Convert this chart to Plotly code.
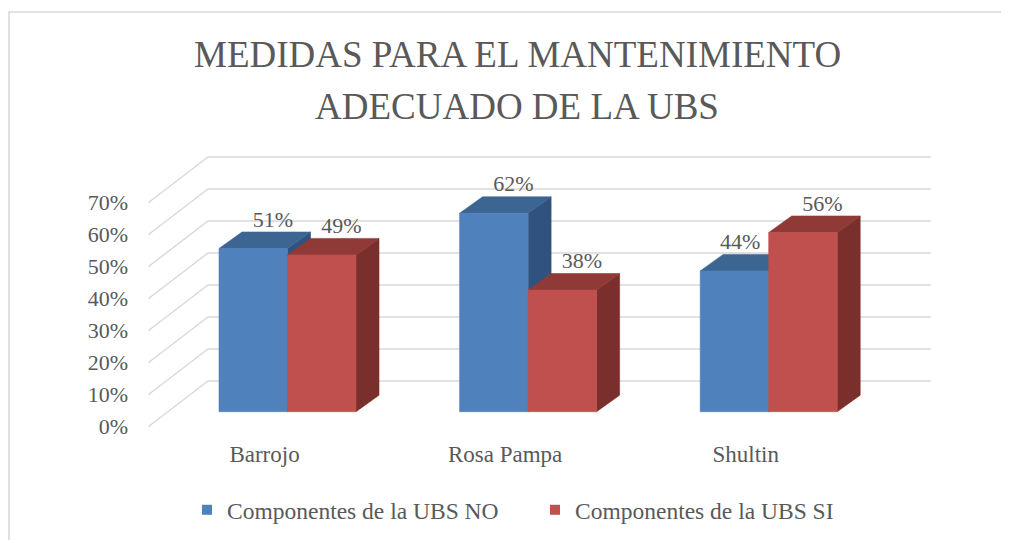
import plotly.graph_objects as go

# ---------------- data ----------------
categories = ["Barrojo", "Rosa Pampa", "Shultin"]
series_names = ["Componentes de la UBS NO", "Componentes de la UBS SI"]
values_no = [51, 62, 44]
values_si = [49, 38, 56]
y_ticks = [0, 10, 20, 30, 40, 50, 60, 70]
y_ticktext = ["0%", "10%", "20%", "30%", "40%", "50%", "60%", "70%"]
title_lines = ["MEDIDAS PARA EL MANTENIMIENTO", "ADECUADO DE LA UBS"]

# ---------------- styles ----------------
FONT = "Liberation Serif, Times New Roman, serif"
TXT = "#595959"
GRID = "#D9D9D9"
colors = {
    "no": {"front": "#4F81BD", "top": "#3D6592", "side": "#30527F"},
    "si": {"front": "#C0504D", "top": "#8F3A37", "side": "#7B2F2D"},
}

# page geometry (reference pixel coordinates); the page body adds an 8px offset
OFF = 8
PAGE_W, PAGE_H = 1009, 540
EXTRA_H = 40                             # spare room below so the legend never pushes margins
L, R, T, B = 135, 945, 140, 440          # plot area in px
X0, SX = 287.5, 240.6                    # px of category 0 centre, px per category
Y0, SY = 411.7, 3.2                      # px of 0 %, px per 1 %


def xd(px):
    return (px - X0) / SX


def yd(py):
    return (Y0 - py) / SY


BAR_W = 68.5 / SX          # bar front width (category units)
DX = 23.0 / SX             # bar depth offset in x
DY = 16.5 / SY             # bar depth offset in y (%)
LABEL_SHIFT = (426.7 - Y0) / SY   # tick labels sit on the front floor
WALL_DX = xd(208) - xd(148.3)
WALL_DY = (Y0 - 381) / SY + LABEL_SHIFT
GRID_X_FRONT = xd(148.3)
GRID_X_END = xd(930.7)
LABEL_HALF = 20.5 / SX     # half width of a data label
LABEL_GAP = 8.0 / SX

xr = [xd(L), xd(R)]
yr = [yd(B), yd(T)]

fig = go.Figure()

# gridlines: diagonal on the side + horizontal on the back wall
gx, gy = [], []
for v in y_ticks:
    yf = v - LABEL_SHIFT
    gx += [GRID_X_FRONT, GRID_X_FRONT + WALL_DX, GRID_X_END, None]
    gy += [yf, yf + WALL_DY, yf + WALL_DY, None]
fig.add_trace(go.Scatter(x=gx, y=gy, mode="lines", line=dict(color=GRID, width=1.4),
                         hoverinfo="skip", showlegend=False))


def poly(xs, ys, color):
    fig.add_trace(go.Scatter(x=xs + [xs[0]], y=ys + [ys[0]], mode="lines", fill="toself",
                             fillcolor=color, line=dict(color=color, width=0.6),
                             hoverinfo="skip", showlegend=False))


series = [("no", values_no), ("si", values_si)]
label_x, label_y, label_t = [], [], []
for i, cat in enumerate(categories):
    for s, (key, vals) in enumerate(series):
        v = vals[i]
        c = colors[key]
        x0 = i + (s - 1) * BAR_W
        x1 = x0 + BAR_W
        poly([x1, x1 + DX, x1 + DX, x1], [0, DY, v + DY, v], c["side"])
        poly([x0, x1, x1 + DX, x0 + DX], [v, v, v + DY, v + DY], c["top"])
        poly([x0, x1, x1, x0], [0, 0, v, v], c["front"])
        lx = (x0 + x1) / 2 + 0.85 * DX
        # keep the label clear of a taller neighbouring bar on the right
        if s == 0 and values_si[i] > v:
            lx = min(lx, x1 - LABEL_GAP - LABEL_HALF)
        label_x.append(lx)
        label_y.append(v + DY)
        label_t.append(f"{v}%")

fig.add_trace(go.Scatter(x=label_x, y=label_y, text=label_t, mode="text",
                         textposition="top center",
                         textfont=dict(family=FONT, size=22, color=TXT),
                         hoverinfo="skip", showlegend=False, cliponaxis=False))

for name, key in zip(series_names, ["no", "si"]):
    fig.add_trace(go.Scatter(x=[None], y=[None], mode="markers", name=name,
                             marker=dict(symbol="square", size=10, color=colors[key]["front"],
                                         line=dict(width=0))))

fig.add_trace(go.Scatter(x=[None], y=[None], yaxis="y2", showlegend=False, hoverinfo="skip"))

pw, ph = R - L, B - T


def pxp(px):
    return (px - L) / pw


def pyp(py):
    return (B - py) / ph


fig_w = PAGE_W - 2 * OFF
fig_h = PAGE_H - OFF + EXTRA_H

fig.update_layout(
    width=fig_w, height=fig_h,
    margin=dict(l=L - OFF, r=OFF + fig_w - R, t=T - OFF, b=OFF + fig_h - B, pad=0),
    paper_bgcolor="white", plot_bgcolor="rgba(0,0,0,0)",
    font=dict(family=FONT, size=22, color=TXT),
    xaxis=dict(range=xr, tickvals=[i - DX for i in range(len(categories))],
               ticktext=categories, showgrid=False, zeroline=False, showline=False,
               ticks="", tickfont=dict(family=FONT, size=23, color=TXT),
               ticklabelstandoff=-2, fixedrange=True),
    yaxis=dict(range=yr, showgrid=False, zeroline=False, showline=False,
               showticklabels=False, ticks="", fixedrange=True),
    yaxis2=dict(range=[yr[0] + LABEL_SHIFT, yr[1] + LABEL_SHIFT], overlaying="y",
                side="left", anchor="x", tickvals=y_ticks, ticktext=y_ticktext,
                showgrid=False, zeroline=False, showline=False, ticks="",
                tickfont=dict(family=FONT, size=22, color=TXT),
                ticklabelstandoff=6, fixedrange=True),
    showlegend=True,
    legend=dict(orientation="h", x=pxp(187), xanchor="left", y=pyp(510), yanchor="middle",
                font=dict(family=FONT, size=23.5, color=TXT), bgcolor="rgba(0,0,0,0)",
                entrywidth=303, entrywidthmode="pixels", borderwidth=0),
    shapes=[dict(type="rect", xref="paper", yref="paper", x0=pxp(9), x1=pxp(1030),
                 y0=pyp(620), y1=pyp(12), line=dict(color=GRID, width=1.6),
                 fillcolor="rgba(0,0,0,0)", layer="below")],
    annotations=[
        dict(text=title_lines[0], xref="paper", yref="paper",
             x=pxp(517), y=pyp(55), xanchor="center", yanchor="middle", showarrow=False,
             font=dict(family=FONT, size=37, color=TXT)),
        dict(text=title_lines[1], xref="paper", yref="paper",
             x=pxp(517), y=pyp(107), xanchor="center", yanchor="middle", showarrow=False,
             font=dict(family=FONT, size=37, color=TXT)),
    ],
)

fig.write_html("out.html")
